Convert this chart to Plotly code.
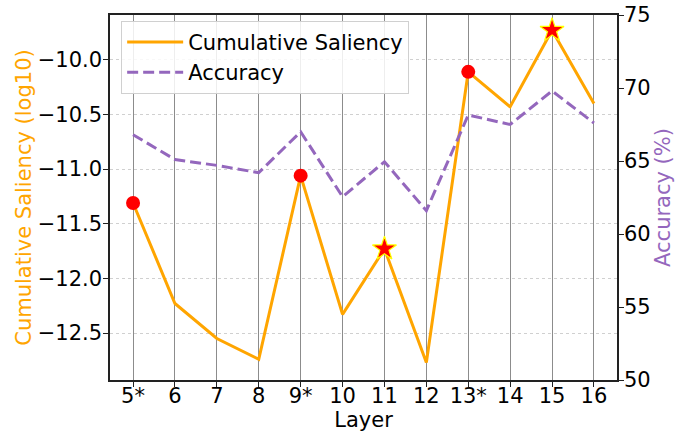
import plotly.graph_objects as go

# Layer labels (starred layers are the selected ones)
layers = ["5*", "6", "7", "8", "9*", "10", "11", "12", "13*", "14", "15", "16"]
saliency = [-11.31, -12.23, -12.55, -12.74, -11.06, -12.33, -11.73, -12.77, -10.11, -10.43, -9.73, -10.40]
accuracy = [66.8, 65.1, 64.7, 64.2, 67.0, 62.55, 64.95, 61.6, 68.15, 67.5, 69.8, 67.6]

circle_layers = ["5*", "9*", "13*"]
star_layers = ["11", "15"]

ORANGE = "#FFA500"
PURPLE = "#9467bd"
FONT = "DejaVu Sans"
FS = 21

xpos = list(range(len(layers)))
idx = {lab: i for i, lab in enumerate(layers)}

fig = go.Figure()

fig.add_trace(go.Scatter(
    x=xpos, y=saliency, mode="lines", name="Cumulative Saliency",
    line=dict(color=ORANGE, width=3), yaxis="y"))

fig.add_trace(go.Scatter(
    x=xpos, y=accuracy, mode="lines", name="Accuracy",
    line=dict(color=PURPLE, width=3, dash="11px,5px"), yaxis="y2"))

fig.add_trace(go.Scatter(
    x=[idx[l] for l in circle_layers], y=[saliency[idx[l]] for l in circle_layers],
    mode="markers", showlegend=False, yaxis="y",
    marker=dict(symbol="circle", size=14, color="red", line=dict(width=0))))

fig.add_trace(go.Scatter(
    x=[idx[l] for l in star_layers], y=[saliency[idx[l]] for l in star_layers],
    mode="markers", showlegend=False, yaxis="y",
    marker=dict(symbol="star", size=18, color="red", line=dict(color="yellow", width=1.2))))

left_ticks = [-10.0, -10.5, -11.0, -11.5, -12.0, -12.5]

fig.update_layout(
    width=694, height=437,
    margin=dict(l=110, r=77, t=15, b=57, autoexpand=False),
    paper_bgcolor="white", plot_bgcolor="white",
    font=dict(family=FONT, size=FS, color="black"),
    xaxis=dict(
        range=[-0.55, 11.55], tickmode="array", tickvals=xpos, ticktext=layers,
        showgrid=True, gridcolor="#8c8c8c", gridwidth=1,
        showline=True, linecolor="#222", linewidth=1.5, mirror=True,
        ticks="outside", ticklen=5, tickcolor="#222", automargin=False,
        ticklabelstandoff=-9,
        title=dict(text="Layer", font=dict(size=FS), standoff=0),
        zeroline=False),
    yaxis=dict(
        range=[-12.93, -9.59], tickmode="array", tickvals=left_ticks,
        ticktext=[("\u2212%.1f" % abs(v)) for v in left_ticks],
        showgrid=True, gridcolor="#d0d0d0", gridwidth=1, griddash="dot",
        showline=True, linecolor="#222", linewidth=1.5, mirror=True,
        ticks="outside", ticklen=5, tickcolor="#222", automargin=False,
        ticklabelstandoff=-3,
        title=dict(text="Cumulative Saliency (log10)", font=dict(size=FS, color=ORANGE), standoff=0),
        zeroline=False),
    yaxis2=dict(
        range=[50, 75], overlaying="y", side="right",
        tickmode="array", tickvals=[50, 55, 60, 65, 70, 75],
        showgrid=False, showline=True, linecolor="#222", linewidth=1.5,
        ticks="outside", ticklen=5, tickcolor="#222", automargin=False,
        ticklabelstandoff=-4,
        title=dict(text="Accuracy (%)", font=dict(size=FS, color=PURPLE), standoff=0),
        zeroline=False),
    legend=dict(
        x=0.022, y=0.984, xanchor="left", yanchor="top",
        bgcolor="rgba(255,255,255,0.85)", bordercolor="#d0d0d0", borderwidth=1,
        font=dict(size=FS), tracegroupgap=0, itemwidth=56),
)

fig.write_html("out.html")
